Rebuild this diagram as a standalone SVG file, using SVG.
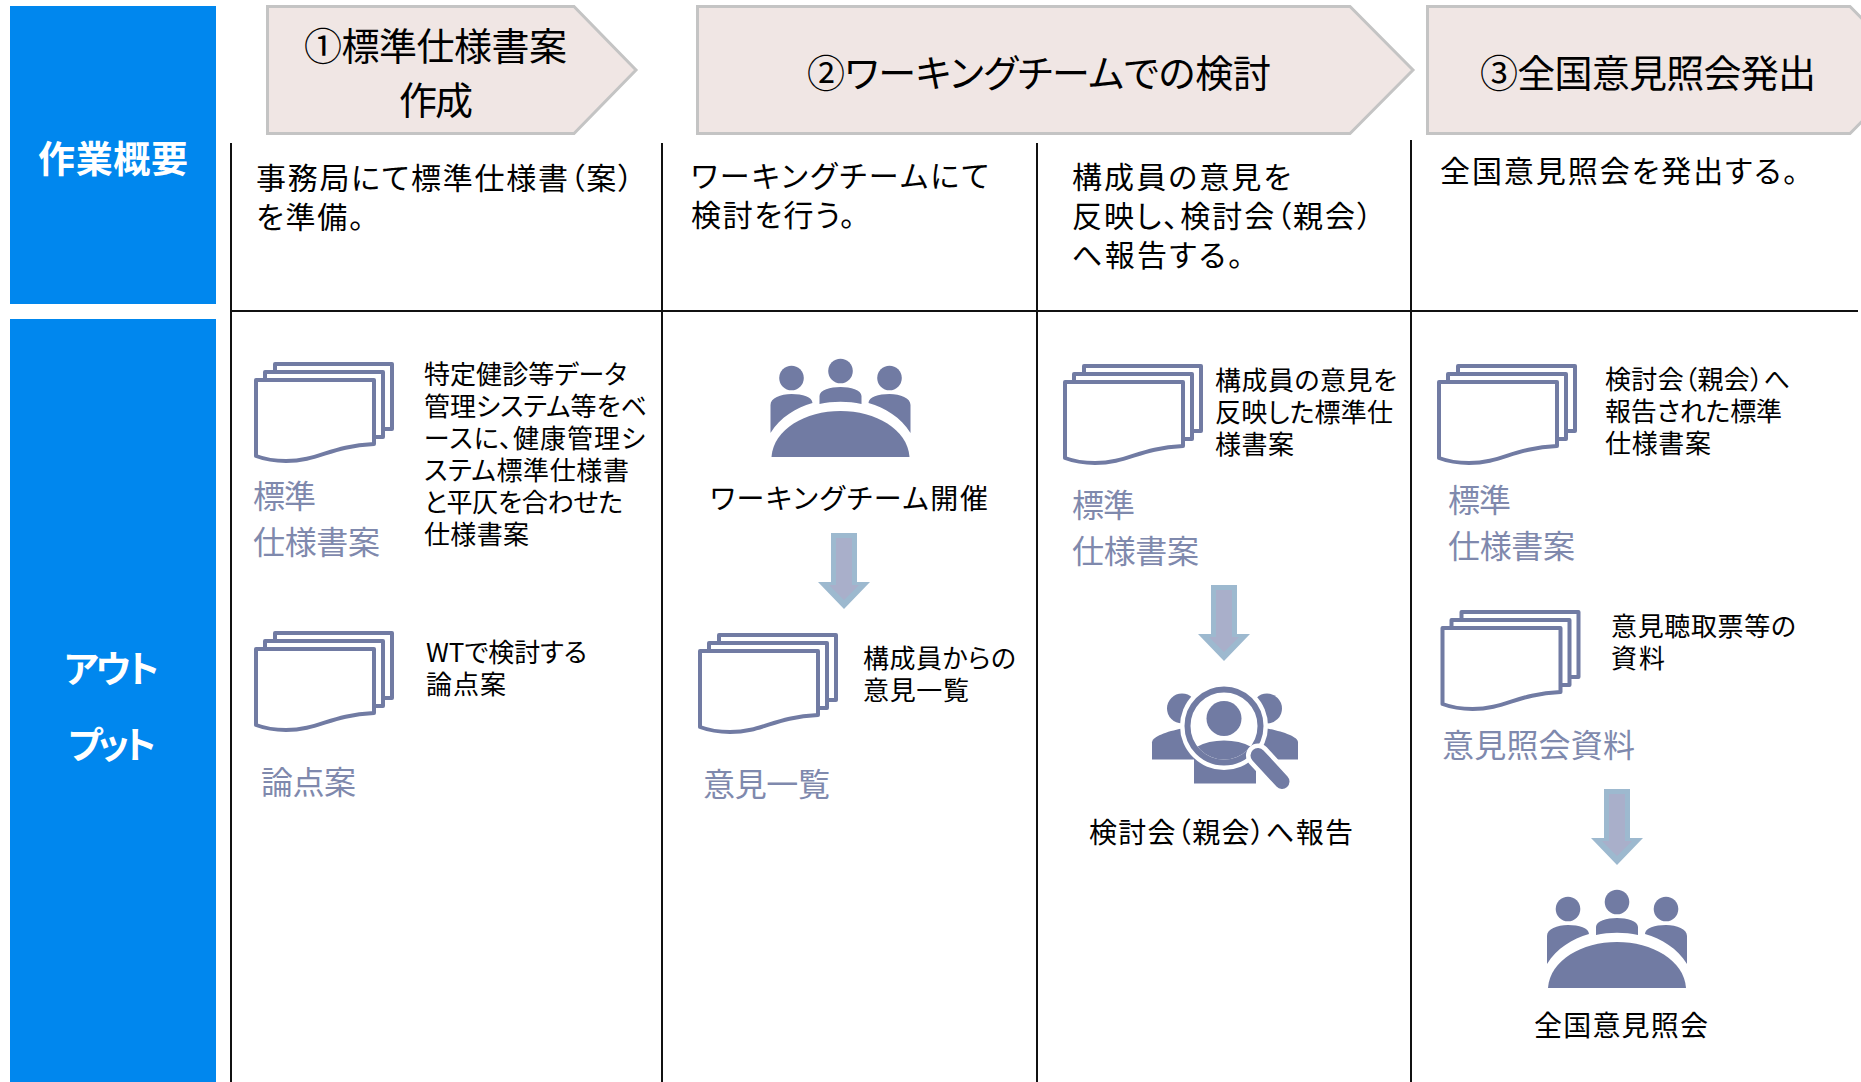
<svg xmlns="http://www.w3.org/2000/svg" width="1861" height="1082" viewBox="0 0 1861 1082">
<style>
text{font-family:"Noto Sans CJK JP","Noto Sans",sans-serif;font-feature-settings:"palt";fill:#000}
.h{font-size:38px;font-weight:400}
.w{font-size:37px;font-weight:700;fill:#fff}
.b{font-size:30px}
.s{font-size:26px}
.c{font-size:28px}
.l{font-size:32px;fill:#7f89ad}
.cv{fill:#f0e6e4;stroke:#c4c4c4;stroke-width:3}
.bx{fill:#0087ee}
.ln{stroke:#111;stroke-width:2;fill:none}
.d{fill:#fff;stroke:#717ba3;stroke-width:4;stroke-linejoin:round}
.i{fill:#717ba3}
</style>
<defs>
<symbol id="doc" overflow="visible">
<path class="d" d="M21,9V2H138V67H130"/>
<path class="d" d="M11,17V10H129V75H121"/>
<path class="d" d="M2,18H120V82C76,84 65,99 32,99C20,99 10,97 2,94Z"/>
</symbol>
<symbol id="meet" overflow="visible">
<circle class="i" cx="21" cy="19" r="12.3"/><circle class="i" cx="70" cy="12" r="12.3"/><circle class="i" cx="119" cy="19" r="12.3"/>
<path class="i" d="M49,45V37C49,31 60,28 70,28C80,28 91,31 91,37V45C78,42 62,42 49,45Z"/>
<path class="i" d="M0,74V46C0,39 10,35 21,35C32,35 42,38 42,44C25,49 10,58 0,74Z"/>
<path class="i" d="M140,74V46C140,39 130,35 119,35C108,35 98,38 98,44C115,49 130,58 140,74Z"/>
<path class="i" d="M1,98C3,70 35,52 70,52C105,52 137,70 139,98Z"/>
</symbol>
<symbol id="arr" overflow="visible">
<path fill="#9db9cf" d="M13,0H39V49H52L26,76L0,49H13Z"/>
<path fill="#a9afca" d="M18,5H34V52H41L26,67L11,52H18Z"/>
</symbol>
<clipPath id="lens"><circle cx="72" cy="39.500" r="33.500"/></clipPath>
</defs>

<g id="label-overview"><rect class="bx" x="10" y="6" width="206" height="298"/><text class="w" x="38" y="173" textLength="150">作業概要</text></g>
<g id="label-output"><rect class="bx" x="10" y="319" width="206" height="763"/><text class="w" x="64" y="683" textLength="95">アウト</text><text class="w" x="68" y="759" textLength="88">プット</text></g>

<g id="step-1"><path class="cv" d="M267.500,6.500H574L636,70L574,133.500H267.500Z"/><text class="h" x="304" y="60" textLength="263">①標準仕様書案</text><text class="h" x="399" y="114" textLength="74">作成</text></g>
<g id="step-2"><path class="cv" d="M697.500,6.500H1350L1413,70L1350,133.500H697.500Z"/><text class="h" x="807" y="87" textLength="464">②ワーキングチームでの検討</text></g>
<g id="step-3"><path class="cv" d="M1427.500,6.500H1850L1913,70L1850,133.500H1427.500Z"/><text class="h" x="1480" y="87" textLength="336">③全国意見照会発出</text></g>

<g id="connectors">
<path class="ln" d="M231,143V1082M662,143V1082M1037,143V1082M1411,140V1082M231,311H1858"/>
<use href="#arr" x="818" y="533"/><use href="#arr" x="1198" y="585"/><use href="#arr" x="1591" y="789"/>
</g>

<g id="desc-1"><text class="b" x="256" y="189" textLength="377">事務局にて標準仕様書（案）</text><text class="b" x="256" y="228" textLength="108">を準備。</text></g>
<g id="desc-2"><text class="b" x="691" y="187" textLength="298">ワーキングチームにて</text><text class="b" x="691" y="226" textLength="164">検討を行う。</text></g>
<g id="desc-3"><text class="b" x="1072" y="188" textLength="219">構成員の意見を</text><text class="b" x="1072" y="227" textLength="300">反映し、検討会（親会）</text><text class="b" x="1072" y="266" textLength="171">へ報告する。</text></g>
<g id="desc-4"><text class="b" x="1440" y="182" textLength="358">全国意見照会を発出する。</text></g>

<g id="doc-1"><use href="#doc" x="254" y="362"/>
<text class="l" x="253" y="508" textLength="63">標準</text><text class="l" x="253" y="554" textLength="127">仕様書案</text>
<text class="s" x="424" y="384" textLength="203">特定健診等データ</text><text class="s" x="424" y="416" textLength="223">管理システム等をベ</text><text class="s" x="424" y="448" textLength="221">ースに、健康管理シ</text><text class="s" x="424" y="480" textLength="205">ステム標準仕様書</text><text class="s" x="424" y="512" textLength="199">と平仄を合わせた</text><text class="s" x="424" y="544" textLength="105">仕様書案</text></g>
<g id="doc-2"><use href="#doc" x="254" y="631"/>
<text class="l" x="261" y="794" textLength="95">論点案</text>
<text class="s" x="426" y="662" textLength="161">WTで検討する</text><text class="s" x="426" y="694" textLength="80">論点案</text></g>

<g id="meeting-1"><use href="#meet" x="770.500" y="359"/><text class="c" x="710" y="509" textLength="278">ワーキングチーム開催</text></g>
<g id="doc-3"><use href="#doc" x="698" y="633"/>
<text class="l" x="703" y="796" textLength="127">意見一覧</text>
<text class="s" x="863" y="668" textLength="153">構成員からの</text><text class="s" x="863" y="700" textLength="106">意見一覧</text></g>

<g id="doc-4"><use href="#doc" x="1063" y="364"/>
<text class="l" x="1072" y="517" textLength="63">標準</text><text class="l" x="1072" y="563" textLength="127">仕様書案</text>
<text class="s" x="1215" y="390" textLength="182">構成員の意見を</text><text class="s" x="1215" y="422" textLength="178">反映した標準仕</text><text class="s" x="1215" y="454" textLength="79">様書案</text></g>
<g id="report"><g transform="translate(1152,686.500)">
<circle class="i" cx="30" cy="22" r="15"/><circle class="i" cx="115" cy="22" r="15"/>
<path class="i" d="M0,73V56C0,50 15,45 30,42H45V73Z"/>
<path class="i" d="M146,73V56C146,50 130,45 115,42H100V73Z"/>
<path class="i" d="M42,97V72H104V97Z"/>
<circle cx="72" cy="39.500" r="44" fill="#fff"/>
<circle cx="72" cy="39.500" r="36.500" fill="#fff" stroke="#717ba3" stroke-width="6"/>
<circle class="i" cx="72" cy="32" r="17.500"/>
<ellipse class="i" cx="72" cy="75" rx="38" ry="21" clip-path="url(#lens)"/>
<path d="M106,69L130,95" stroke="#fff" stroke-width="24" stroke-linecap="round"/>
<path d="M106,69L130,95" stroke="#717ba3" stroke-width="15" stroke-linecap="round"/>
</g><text class="c" x="1089" y="843" textLength="264">検討会（親会）へ報告</text></g>

<g id="doc-5"><use href="#doc" x="1437" y="364"/>
<text class="l" x="1448" y="512" textLength="63">標準</text><text class="l" x="1448" y="558" textLength="127">仕様書案</text>
<text class="s" x="1605" y="389" textLength="185">検討会（親会）へ</text><text class="s" x="1605" y="421" textLength="177">報告された標準</text><text class="s" x="1605" y="453" textLength="106">仕様書案</text></g>
<g id="doc-6"><use href="#doc" x="1440.500" y="610"/>
<text class="l" x="1442" y="757" textLength="193">意見照会資料</text>
<text class="s" x="1611" y="636" textLength="185">意見聴取票等の</text><text class="s" x="1611" y="668" textLength="54">資料</text></g>
<g id="meeting-2"><use href="#meet" x="1547" y="890"/><text class="c" x="1534" y="1036" textLength="174">全国意見照会</text></g>
</svg>
